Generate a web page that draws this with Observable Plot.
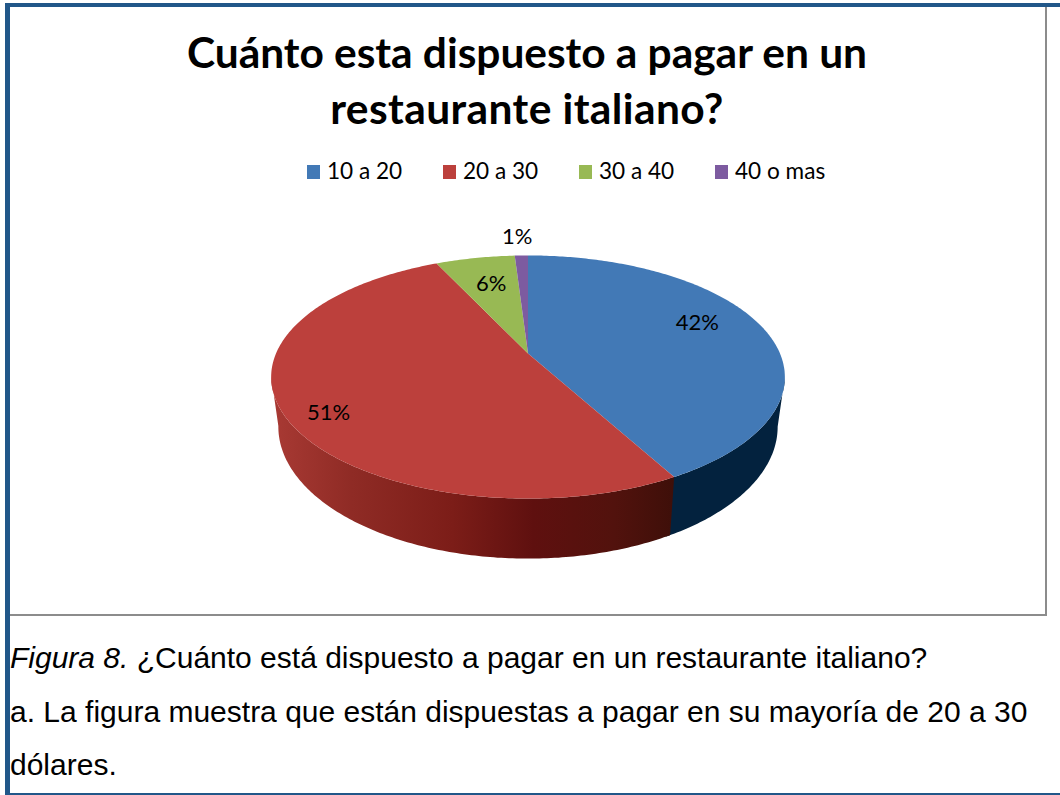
<!DOCTYPE html>
<html lang="es">
<head>
<meta charset="utf-8">
<title>Cuánto esta dispuesto a pagar en un restaurante italiano?</title>
<script src="https://cdn.jsdelivr.net/npm/d3@7"></script>
<script src="https://cdn.jsdelivr.net/npm/@observablehq/plot@0.6"></script>
<style>
  html, body { margin: 0; padding: 0; background: #fff; }
  #page { position: relative; width: 1060px; height: 795px; overflow: hidden; color: #000; }
  .rule { position: absolute; }
  .blue { background: #215789; }
  .grey { background: #8c8c8c; }
  #title {
    position: absolute; left: 0; top: 24px; width: 1054px; text-align: center;
    font: 700 42.5px/56px Lato, "Open Sans", sans-serif; letter-spacing: -0.05px;
  }
  #title span { letter-spacing: 0.4px; }
  #legend {
    position: absolute; top: 158px; left: 307px; height: 26px;
    font: 400 22.6px/26px Lato, "Open Sans", sans-serif; white-space: nowrap;
  }
  .item { position: absolute; top: 0; }
  .swatch { position: absolute; left: 0; top: 7px; width: 13px; height: 14px; }
  .item span { position: absolute; left: 20px; top: 0; }
  #chart { position: absolute; left: 0; top: 190px; }
  #caption {
    position: absolute; left: 10px; top: 631px; white-space: nowrap;
    font: 400 30px/53.5px "Liberation Sans", Arial, sans-serif;
  }
</style>
</head>
<body>
<div id="page">
  <div class="rule blue" style="left:5px;top:3px;width:1055px;height:4px"></div>
  <div class="rule blue" style="left:5px;top:3px;width:5px;height:792px"></div>
  <div class="rule blue" style="left:5px;top:793px;width:1055px;height:2px"></div>
  <div class="rule grey" style="left:1045px;top:7px;width:2px;height:609px"></div>
  <div class="rule grey" style="left:10px;top:614px;width:1037px;height:2px"></div>
  <div id="title">Cuánto esta dispuesto a pagar en un<br><span>restaurante italiano?</span></div>
  <div id="legend"></div>
  <div id="chart"></div>
  <div id="caption"><i>Figura 8.</i> ¿Cuánto está dispuesto a pagar en un restaurante italiano?<br>a. La figura muestra que están dispuestas a pagar en su mayoría de 20 a 30<br>dólares.</div>
</div>
<script>
// Survey answers, in slice order clockwise from twelve o'clock
const categories = ["10 a 20", "20 a 30", "30 a 40", "40 o mas"];
const shares = [42, 51, 6, 1];
const colors = ["#4279b6", "#bc403c", "#98b954", "#7d5ba0"];

// Legend entries sit at fixed steps along the row
const legendSteps = [0, 136, 272, 408];

// Label placement: fraction of the radius, then a nudge in pixels
const labelRadius = [0.7, 0.7, 0.7, 1.2];
const labelNudgeX = [4, -32, 2, -3];
const labelNudgeY = [-11, 20, 1, -3];

// The disc is a circle seen in perspective: far edge foreshortened, near edge enlarged
const tilt = 0.1934;
const TAU = 2 * Math.PI;
const project = (turn, r = 1) => {
  const X = r * Math.sin(turn * TAU), Y = r * Math.cos(turn * TAU);
  const d = 1 + tilt * Y;
  return {x: X / d, y: Y / d};
};
// The underside of the wall is the same rim, slightly narrower and dropped
const underside = ({x, y}) => ({x: x * 0.972, y: y * 1.085 - 0.408});

const arcPoints = (a, b, step = 0.002) => {
  const n = Math.max(2, Math.ceil((b - a) / step));
  return d3.range(n + 1).map((i) => a + (b - a) * i / n);
};

// Cumulative slice boundaries as fractions of a turn
const total = d3.sum(shares);
const ends = d3.cumsum(shares).map((v) => v / total);
const starts = [0, ...ends.slice(0, -1)];

const wedges = categories.flatMap((category, i) => [
  {category, ...project(0, 0)},
  ...arcPoints(starts[i], ends[i]).map((t) => ({category, ...project(t)}))
]);

// Only the near side of the wall shows: from the slice boundary to each silhouette point
const wallBand = (a, b) => [
  ...arcPoints(a, b).map((t) => project(t)),
  ...arcPoints(a, b).reverse().map((t) => underside(project(t)))
];
const silhouetteRight = 0.281, silhouetteLeft = 0.72;
const blueWall = wallBand(silhouetteRight, ends[0] + 0.003); // runs just under the red wall
const redWall = wallBand(ends[0], silhouetteLeft);

const labels = categories.map((category, i) => ({
  text: `${shares[i]}%`,
  ...project((starts[i] + ends[i]) / 2, labelRadius[i]),
  dx: labelNudgeX[i],
  dy: labelNudgeY[i]
}));

// Shaded wall gradient, dark toward the front right
const wallGradient = () => {
  const defs = d3.create("svg:defs");
  const g = defs.append("linearGradient").attr("id", "redWallShade");
  [[0, "#a93a34"], [0.2, "#8f2b25"], [0.45, "#7c1d18"], [0.65, "#5f100f"], [0.85, "#52120d"], [1, "#3e0f09"]]
    .forEach(([o, c]) => g.append("stop").attr("offset", o).attr("stop-color", c));
  return defs.node();
};

const chart = Plot.plot({
  width: 1060,
  height: 400,
  margin: 0,
  x: {axis: null, domain: [-1, 1], range: [275.5, 779.5]},
  y: {axis: null, domain: [-1, 1], range: [280, 46]},
  color: {domain: categories, range: colors},
  marks: [
    wallGradient,
    Plot.line(blueWall, {x: "x", y: "y", fill: "#03223e", stroke: "none", curve: "linear-closed"}),
    Plot.line(redWall, {x: "x", y: "y", fill: "url(#redWallShade)", stroke: "none", curve: "linear-closed"}),
    Plot.line(wedges, {x: "x", y: "y", z: "category", fill: "category", stroke: "none", curve: "linear-closed"}),
    ...labels.map((d) => Plot.text([d], {
      x: "x", y: "y", text: "text", dx: d.dx, dy: d.dy,
      fontFamily: "Lato, 'Open Sans', sans-serif", fontSize: 22, fill: "#000"
    }))
  ]
});
document.getElementById("chart").append(chart);

const legend = d3.select("#legend");
categories.forEach((category, i) => {
  const item = legend.append("div").attr("class", "item").style("left", `${legendSteps[i]}px`);
  item.append("div").attr("class", "swatch").style("background", colors[i]);
  item.append("span").text(category);
});
</script>
</body>
</html>
